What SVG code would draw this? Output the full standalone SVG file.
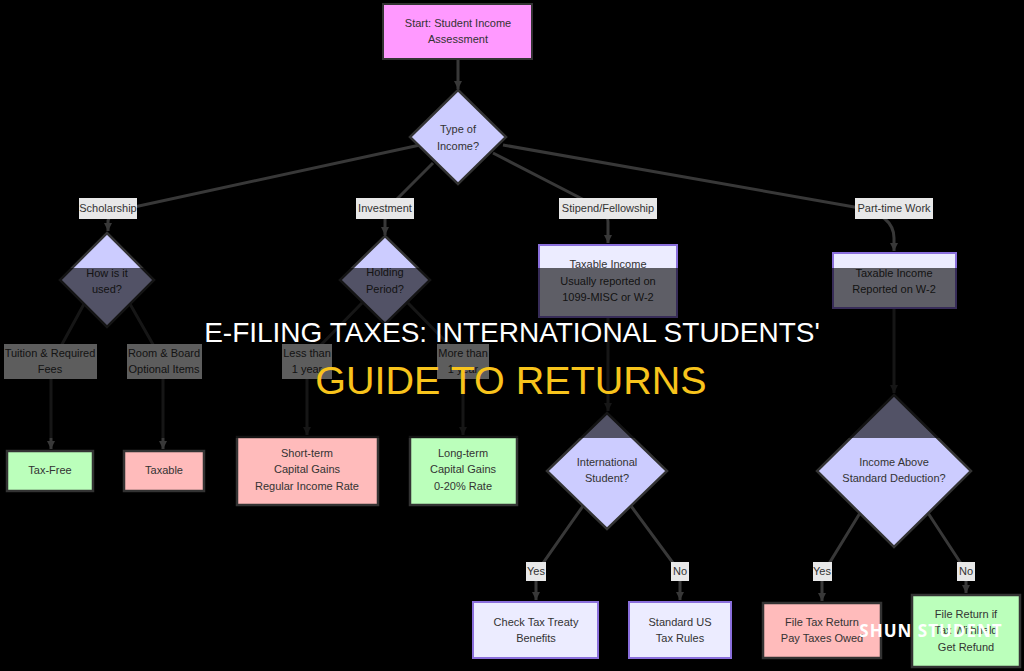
<svg xmlns="http://www.w3.org/2000/svg" width="1024" height="671" viewBox="0 0 1024 671">
<defs>
<style>
.t{font-family:"Liberation Sans",Arial,sans-serif;font-size:11px;fill:#333;text-anchor:middle}
.e{fill:none;stroke:#383838;stroke-width:3}
.lb{fill:#e8e8e8}
.start{fill:#ff99ff;stroke:#333;stroke-width:2}
.dec{fill:#ccccff;stroke:#333;stroke-width:2.5}
.lav{fill:#ececff;stroke:#8a6fdc;stroke-width:2}
.grn{fill:#bbffbb;stroke:#333;stroke-width:2.5}
.pnk{fill:#ffbbbb;stroke:#333;stroke-width:2.5}
</style>
<marker id="ah" markerUnits="userSpaceOnUse" markerWidth="9" markerHeight="9" refX="8" refY="4" orient="auto">
<path d="M0,0 L8,4 L0,8 z" fill="#383838"/>
</marker>
</defs>
<rect width="1024" height="671" fill="#000"/>

<g id="connectors">
<path class="e" d="M458,59 L458,89" marker-end="url(#ah)"/>
<path class="e" d="M420,145 L125,209 Q108,213 108,222 L108,231" marker-end="url(#ah)"/>
<path class="e" d="M433,163 L392,204 Q385,211 385,220 L385,235" marker-end="url(#ah)"/>
<path class="e" d="M493,153 L592,204 Q608,212 608,222 L608,243" marker-end="url(#ah)"/>
<path class="e" d="M503,145 L860,208 C880,212 894,222 894,238 L894,251" marker-end="url(#ah)"/>
<path class="e" d="M84,304 L60,348 Q51,362 51,372 L51,449" marker-end="url(#ah)"/>
<path class="e" d="M130,304 L155,348 Q163,362 163,372 L163,449" marker-end="url(#ah)"/>
<path class="e" d="M362,303 L316,350 Q307,360 307,372 L307,435" marker-end="url(#ah)"/>
<path class="e" d="M408,303 L454,350 Q463,360 463,372 L463,435" marker-end="url(#ah)"/>
<path class="e" d="M608,317 L608,411" marker-end="url(#ah)"/>
<path class="e" d="M583,506 L543,563 Q536,570 536,580 L536,600" marker-end="url(#ah)"/>
<path class="e" d="M631,506 L673,563 Q680,570 680,580 L680,600" marker-end="url(#ah)"/>
<path class="e" d="M894,308 L894,393" marker-end="url(#ah)"/>
<path class="e" d="M860,513 L830,562 Q822,570 822,580 L822,601" marker-end="url(#ah)"/>
<path class="e" d="M928,513 L960,562 Q966,570 966,580 L966,593" marker-end="url(#ah)"/>
</g>

<g id="edge-labels">
<rect class="lb" x="79" y="198" width="58" height="21"/><text class="t" x="108" y="212">Scholarship</text>
<rect class="lb" x="356" y="198" width="58" height="21"/><text class="t" x="385" y="212">Investment</text>
<rect class="lb" x="559" y="198" width="98" height="21"/><text class="t" x="608" y="212">Stipend/Fellowship</text>
<rect class="lb" x="855" y="198" width="78" height="21"/><text class="t" x="894" y="212">Part-time Work</text>
<rect class="lb" x="4" y="344" width="93" height="35"/><text class="t" x="50" y="357">Tuition &amp; Required</text><text class="t" x="50" y="373">Fees</text>
<rect class="lb" x="127" y="344" width="75" height="35"/><text class="t" x="164" y="357">Room &amp; Board</text><text class="t" x="164" y="373">Optional Items</text>
<rect class="lb" x="282" y="344" width="50" height="35"/><text class="t" x="307" y="357">Less than</text><text class="t" x="307" y="373">1 year</text>
<rect class="lb" x="437" y="344" width="52" height="35"/><text class="t" x="463" y="357">More than</text><text class="t" x="463" y="373">1 year</text>
<rect class="lb" x="526" y="562" width="20" height="19"/><text class="t" x="536" y="575">Yes</text>
<rect class="lb" x="671" y="562" width="18" height="19"/><text class="t" x="680" y="575">No</text>
<rect class="lb" x="813" y="562" width="19" height="19"/><text class="t" x="822" y="575">Yes</text>
<rect class="lb" x="957" y="562" width="18" height="19"/><text class="t" x="966" y="575">No</text>
</g>

<g id="start"><rect class="start" x="383" y="4" width="149" height="55"/><text class="t" x="458" y="27">Start: Student Income</text><text class="t" x="458" y="43">Assessment</text></g>
<g id="type"><polygon class="dec" points="458,90 506,137 458,184 410,137"/><text class="t" x="458" y="133">Type of</text><text class="t" x="458" y="150">Income?</text></g>
<g id="scholarship"><polygon class="dec" points="107,233 154,280 107,327 60,280"/><text class="t" x="107" y="277">How is it</text><text class="t" x="107" y="293">used?</text></g>
<g id="holding"><polygon class="dec" points="385,236 430,280 385,324 340,280"/><text class="t" x="385" y="276">Holding</text><text class="t" x="385" y="293">Period?</text></g>
<g id="stipend"><rect class="lav" x="539" y="245" width="138" height="72"/><text class="t" x="608" y="268">Taxable Income</text><text class="t" x="608" y="285">Usually reported on</text><text class="t" x="608" y="301">1099-MISC or W-2</text></g>
<g id="parttime"><rect class="lav" x="833" y="253" width="123" height="55"/><text class="t" x="894" y="277">Taxable Income</text><text class="t" x="894" y="293">Reported on W-2</text></g>
<g id="taxfree"><rect class="grn" x="7" y="451" width="86" height="40"/><text class="t" x="50" y="474">Tax-Free</text></g>
<g id="taxable"><rect class="pnk" x="124" y="451" width="80" height="40"/><text class="t" x="164" y="474">Taxable</text></g>
<g id="shortterm"><rect class="pnk" x="237" y="437" width="141" height="68"/><text class="t" x="307" y="457">Short-term</text><text class="t" x="307" y="473">Capital Gains</text><text class="t" x="307" y="490">Regular Income Rate</text></g>
<g id="longterm"><rect class="grn" x="410" y="437" width="107" height="68"/><text class="t" x="463" y="457">Long-term</text><text class="t" x="463" y="473">Capital Gains</text><text class="t" x="463" y="490">0-20% Rate</text></g>
<g id="international"><polygon class="dec" points="607,413 667,471 607,529 547,471"/><text class="t" x="607" y="466">International</text><text class="t" x="607" y="482">Student?</text></g>
<g id="treaty"><rect class="lav" x="473" y="602" width="125" height="56"/><text class="t" x="536" y="626">Check Tax Treaty</text><text class="t" x="536" y="642">Benefits</text></g>
<g id="standard"><rect class="lav" x="629" y="602" width="102" height="56"/><text class="t" x="680" y="626">Standard US</text><text class="t" x="680" y="642">Tax Rules</text></g>
<g id="income"><polygon class="dec" points="894,395 971,471 894,547 817,471"/><text class="t" x="894" y="466">Income Above</text><text class="t" x="894" y="482">Standard Deduction?</text></g>
<g id="filetax"><rect class="pnk" x="763" y="603" width="118" height="55"/><text class="t" x="822" y="626">File Tax Return</text><text class="t" x="822" y="642">Pay Taxes Owed</text></g>
<g id="filereturn"><rect class="grn" x="912" y="595" width="108" height="72"/><text class="t" x="966" y="618">File Return if</text><text class="t" x="966" y="634">Tax Withheld</text><text class="t" x="966" y="651">Get Refund</text></g>

<rect x="0" y="268" width="1024" height="170" fill="#000" opacity="0.6"/>
<text x="512" y="342" font-family="'Liberation Sans',Arial,sans-serif" font-size="28" fill="#fff" text-anchor="middle">E-FILING TAXES: INTERNATIONAL STUDENTS'</text>
<text x="511" y="394" font-family="'Liberation Sans',Arial,sans-serif" font-size="39.5" fill="#f8c41c" text-anchor="middle">GUIDE TO RETURNS</text>
<text x="931" y="637" font-family="'Open Sans',sans-serif" font-weight="bold" font-size="17" letter-spacing="1" fill="#fff" text-anchor="middle">SHUN STUDENT</text>
</svg>
